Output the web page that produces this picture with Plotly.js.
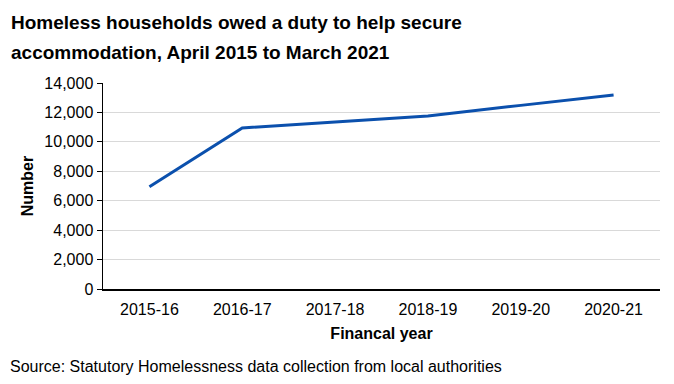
<!DOCTYPE html>
<html>
<head>
<meta charset="utf-8">
<script src="https://cdn.plot.ly/plotly-3.0.1.min.js"></script>
<style>html,body{margin:0;padding:0;background:#fff;}#chart{width:674px;height:384px;}</style>
</head>
<body>
<div id="chart"></div>
<script>
const years = ["2015-16", "2016-17", "2017-18", "2018-19", "2019-20", "2020-21"];
const households = [6950, 10950, 11350, 11750, 12480, 13180];
const yTicks = [0, 2000, 4000, 6000, 8000, 10000, 12000, 14000];
const titleLines = ["Homeless households owed a duty to help secure", "accommodation, April 2015 to March 2021"];
const sourceText = "Source: Statutory Homelessness data collection from local authorities";

const font = "Liberation Sans, Arial, sans-serif";
// plot area geometry in pixels (for converting annotation positions)
const L = 103, T = 83, W = 557, H = 206;
const px = x => (x - L) / W;
const py = y => (T + H - y) / H;

Plotly.newPlot("chart", [{
  type: "scatter",
  mode: "lines",
  x: years,
  y: households,
  line: {color: "#0b50ad", width: 3},
  hoverinfo: "skip"
}], {
  width: 674, height: 384,
  margin: {l: L, r: 674 - L - W, t: T, b: 384 - T - H},
  paper_bgcolor: "#fff", plot_bgcolor: "#fff",
  font: {family: font, size: 16, color: "#000"},
  showlegend: false,
  xaxis: {
    type: "category",
    range: [-0.5, 5.5],
    showgrid: false,
    showline: true, linecolor: "#000", linewidth: 1.5,
    ticks: "outside", ticklen: 5, tickcolor: "rgba(0,0,0,0)",
    tickfont: {family: font, size: 16, color: "#000"},
    title: {text: "<b>Financal year</b>", font: {family: font, size: 16, color: "#000"}, standoff: 11}
  },
  yaxis: {
    range: [0, 14000],
    tickvals: yTicks,
    tickformat: ",d",
    showgrid: true, gridcolor: "#d9d9d9", gridwidth: 1,
    showline: true, linecolor: "#000", linewidth: 1.5,
    ticks: "outside", ticklen: 5, tickcolor: "#000",
    zeroline: false,
    tickfont: {family: font, size: 16, color: "#000"},
    title: {text: "<b>Number</b>", font: {family: font, size: 16, color: "#000"}, standoff: 7}
  },
  annotations: [
    {text: "<b>" + titleLines[0] + "</b>", xref: "paper", yref: "paper", x: px(9), y: py(23),
     xanchor: "left", yanchor: "middle", showarrow: false, font: {family: font, size: 19, color: "#000"}},
    {text: "<b>" + titleLines[1] + "</b>", xref: "paper", yref: "paper", x: px(9), y: py(52),
     xanchor: "left", yanchor: "middle", showarrow: false, font: {family: font, size: 19, color: "#000"}},
    {text: sourceText, xref: "paper", yref: "paper", x: px(8), y: py(366),
     xanchor: "left", yanchor: "middle", showarrow: false, font: {family: font, size: 16, color: "#000"}}
  ]
}, {displayModeBar: false, staticPlot: true});
</script>
</body>
</html>
